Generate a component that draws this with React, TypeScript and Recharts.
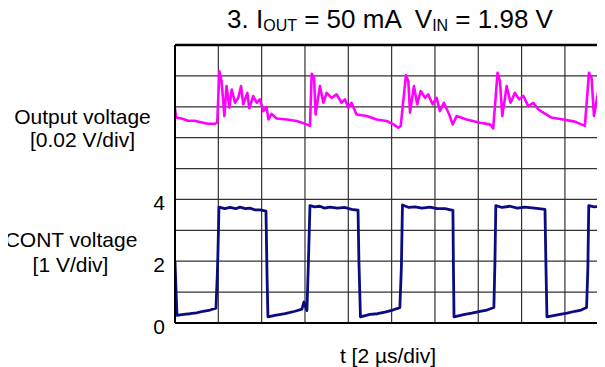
import React from "react";
import { LineChart, Line, XAxis, YAxis, CartesianGrid, ReferenceLine } from "recharts";

// time in µs (2 µs per division), values in divisions (CONT: 1 V/div)
const contWave = [
  { t: 0, v: 2.0 }, { t: 0.09, v: 0.25 }, { t: 0.4, v: 0.28 }, { t: 0.69, v: 0.3 },
  { t: 1.0, v: 0.33 }, { t: 1.3, v: 0.38 }, { t: 1.62, v: 0.42 }, { t: 1.89, v: 0.48 },
  { t: 1.95, v: 1.5 }, { t: 1.98, v: 2.2 }, { t: 2.03, v: 3.75 }, { t: 2.3, v: 3.7 },
  { t: 2.54, v: 3.74 }, { t: 2.8, v: 3.7 }, { t: 3.0, v: 3.75 }, { t: 3.25, v: 3.7 },
  { t: 3.46, v: 3.72 }, { t: 3.7, v: 3.66 }, { t: 3.92, v: 3.66 }, { t: 4.2, v: 3.62 },
  { t: 4.25, v: 1.5 }, { t: 4.29, v: 0.2 }, { t: 4.61, v: 0.25 }, { t: 5.08, v: 0.3 },
  { t: 5.54, v: 0.38 }, { t: 5.86, v: 0.45 }, { t: 5.95, v: 0.68 }, { t: 6.09, v: 0.4 },
  { t: 6.16, v: 2.0 }, { t: 6.23, v: 3.8 }, { t: 6.45, v: 3.76 }, { t: 6.69, v: 3.78 },
  { t: 6.9, v: 3.72 }, { t: 7.15, v: 3.75 }, { t: 7.5, v: 3.72 }, { t: 7.85, v: 3.74 },
  { t: 8.15, v: 3.68 }, { t: 8.45, v: 3.65 }, { t: 8.49, v: 2.0 }, { t: 8.56, v: 0.2 },
  { t: 9.0, v: 0.28 }, { t: 9.35, v: 0.3 }, { t: 9.69, v: 0.35 }, { t: 10.05, v: 0.42 },
  { t: 10.38, v: 0.5 }, { t: 10.45, v: 1.8 }, { t: 10.5, v: 3.82 }, { t: 10.8, v: 3.74 },
  { t: 11.08, v: 3.76 }, { t: 11.4, v: 3.72 }, { t: 11.77, v: 3.75 }, { t: 12.1, v: 3.7 },
  { t: 12.46, v: 3.7 }, { t: 12.83, v: 3.65 }, { t: 12.85, v: 2.0 }, { t: 12.88, v: 0.2 },
  { t: 13.38, v: 0.28 }, { t: 13.7, v: 0.32 }, { t: 14.08, v: 0.38 }, { t: 14.4, v: 0.42 },
  { t: 14.72, v: 0.5 }, { t: 14.77, v: 2.0 }, { t: 14.81, v: 3.8 }, { t: 15.1, v: 3.74 },
  { t: 15.46, v: 3.78 }, { t: 15.8, v: 3.72 }, { t: 16.15, v: 3.75 }, { t: 16.6, v: 3.72 },
  { t: 17.08, v: 3.68 }, { t: 17.12, v: 2.0 }, { t: 17.17, v: 0.2 }, { t: 17.77, v: 0.28 },
  { t: 18.1, v: 0.32 }, { t: 18.46, v: 0.38 }, { t: 18.75, v: 0.42 }, { t: 19.0, v: 0.5 },
  { t: 19.06, v: 1.8 }, { t: 19.1, v: 3.8 }, { t: 19.35, v: 3.76 }, { t: 19.6, v: 3.78 },
  { t: 19.85, v: 3.78 },
];

// output voltage ripple, 0.02 V/div, drawn in the upper divisions
const outWave = [
  { t: 0, v: 6.95 }, { t: 0.05, v: 6.65 }, { t: 0.3, v: 6.62 }, { t: 0.6, v: 6.55 },
  { t: 0.9, v: 6.55 }, { t: 1.2, v: 6.5 }, { t: 1.5, v: 6.45 }, { t: 1.85, v: 6.45 },
  { t: 1.95, v: 6.5 }, { t: 2.05, v: 8.15 }, { t: 2.15, v: 7.83 }, { t: 2.28, v: 6.7 },
  { t: 2.38, v: 7.67 }, { t: 2.51, v: 6.97 }, { t: 2.62, v: 7.56 }, { t: 2.77, v: 7.13 },
  { t: 2.92, v: 7.29 }, { t: 3.05, v: 7.67 }, { t: 3.15, v: 7.08 }, { t: 3.34, v: 7.45 },
  { t: 3.43, v: 6.95 }, { t: 3.61, v: 7.35 }, { t: 3.77, v: 7.13 }, { t: 3.92, v: 7.24 },
  { t: 4.08, v: 6.86 }, { t: 4.23, v: 6.99 }, { t: 4.31, v: 6.59 }, { t: 4.46, v: 6.77 },
  { t: 4.69, v: 6.62 }, { t: 5.15, v: 6.59 }, { t: 5.62, v: 6.54 }, { t: 6.08, v: 6.43 },
  { t: 6.23, v: 6.38 }, { t: 6.31, v: 8.07 }, { t: 6.42, v: 7.94 }, { t: 6.49, v: 6.75 },
  { t: 6.69, v: 7.67 }, { t: 6.85, v: 7.13 }, { t: 7.0, v: 7.45 }, { t: 7.23, v: 7.29 },
  { t: 7.46, v: 7.4 }, { t: 7.69, v: 7.13 }, { t: 7.85, v: 7.24 }, { t: 8.0, v: 6.97 },
  { t: 8.15, v: 7.13 }, { t: 8.38, v: 6.75 }, { t: 8.85, v: 6.7 }, { t: 9.31, v: 6.59 },
  { t: 9.77, v: 6.54 }, { t: 10.08, v: 6.43 }, { t: 10.31, v: 6.32 }, { t: 10.42, v: 6.38 },
  { t: 10.66, v: 8.02 }, { t: 10.77, v: 7.83 }, { t: 10.85, v: 6.81 }, { t: 11.03, v: 7.67 },
  { t: 11.18, v: 7.08 }, { t: 11.34, v: 7.51 }, { t: 11.54, v: 7.29 }, { t: 11.69, v: 7.4 },
  { t: 11.89, v: 7.08 }, { t: 12.08, v: 7.29 }, { t: 12.23, v: 6.86 }, { t: 12.41, v: 7.13 },
  { t: 12.66, v: 6.75 }, { t: 12.82, v: 6.43 }, { t: 13.0, v: 6.7 }, { t: 13.46, v: 6.59 },
  { t: 14.08, v: 6.48 }, { t: 14.54, v: 6.43 }, { t: 14.69, v: 6.3 }, { t: 14.89, v: 8.1 },
  { t: 15.0, v: 7.83 }, { t: 15.11, v: 6.7 }, { t: 15.31, v: 7.67 }, { t: 15.49, v: 7.13 },
  { t: 15.69, v: 7.45 }, { t: 15.89, v: 7.24 }, { t: 16.08, v: 7.35 }, { t: 16.31, v: 7.02 },
  { t: 16.54, v: 7.13 }, { t: 16.77, v: 6.92 }, { t: 17.0, v: 6.81 }, { t: 17.38, v: 6.65 },
  { t: 17.92, v: 6.59 }, { t: 18.46, v: 6.52 }, { t: 18.92, v: 6.38 }, { t: 19.11, v: 8.1 },
  { t: 19.23, v: 7.94 }, { t: 19.34, v: 6.7 }, { t: 19.59, v: 7.72 }, { t: 19.74, v: 7.24 },
  { t: 19.85, v: 7.61 },
];

const xTicks = [0, 2, 4, 6, 8, 10, 12, 14, 16, 18];
const yTicks = [0, 1, 2, 3, 4, 5, 6, 7, 8, 9];
const yTickLabels = [0, 2, 4];

const font = "Arial, 'Liberation Sans', sans-serif";

const YTick = ({ x, y, payload }: any) =>
  yTickLabels.includes(payload.value) ? (
    <text x={x} y={y + 11} textAnchor="end" fontSize={21} fill="#000" fontFamily={font}>
      {payload.value}
    </text>
  ) : null;

const label = (text: string, left: number, top: number, size = 21) => (
  <div
    style={{
      position: "absolute",
      left: left - 150,
      width: 300,
      top,
      textAlign: "center",
      fontSize: size,
      lineHeight: `${size}px`,
      whiteSpace: "nowrap",
    }}
  >
    {text}
  </div>
);

const sub = { fontSize: 16, position: "relative" as const, top: 3 };

export default function App() {
  return (
    <div style={{ position: "relative", width: 597, height: 359, fontFamily: font, color: "#000" }}>
      <div
        style={{
          position: "absolute",
          left: 167,
          width: 430,
          top: -4,
          textAlign: "center",
          fontSize: 26,
          whiteSpace: "pre",
        }}
      >
        3. I<span style={sub}>OUT</span> = 50 mA  V<span style={sub}>IN</span> = 1.98 V
      </div>
      {label("Output voltage", 74.5, 97.7)}
      {label("[0.02 V/div]", 74.5, 120.9)}
      {label("CONT voltage", 63, 220.9)}
      {label("[1 V/div]", 62.5, 245.7)}
      {label("t [2 \u00b5s/div]", 380, 337)}

      <LineChart width={597} height={359} margin={{ top: 37, right: 0, left: 0, bottom: 0 }}>
        <CartesianGrid stroke="#333" strokeWidth={1.2} />
        <XAxis
          type="number"
          dataKey="t"
          domain={[0, 19.85]}
          ticks={xTicks}
          interval={0}
          allowDataOverflow
          tickFormatter={() => ""}
          tickLine={false}
          height={44}
          axisLine={{ stroke: "#000", strokeWidth: 2 }}
        />
        <YAxis
          type="number"
          domain={[0, 9]}
          ticks={yTicks}
          interval={0}
          width={167}
          tickLine={false}
          tickSize={0}
          tickMargin={10}
          tick={<YTick />}
          axisLine={{ stroke: "#000", strokeWidth: 2 }}
        />
        <ReferenceLine y={9} stroke="#000" strokeWidth={2.5} />
        <Line
          data={outWave}
          dataKey="v"
          type="linear"
          stroke="#ff00ff"
          strokeWidth={2.6}
          dot={false}
          strokeLinejoin="round"
          isAnimationActive={false}
        />
        <Line
          data={contWave}
          dataKey="v"
          type="linear"
          stroke="#0b0b82"
          strokeWidth={2.8}
          dot={false}
          strokeLinejoin="round"
          isAnimationActive={false}
        />
      </LineChart>
    </div>
  );
}
